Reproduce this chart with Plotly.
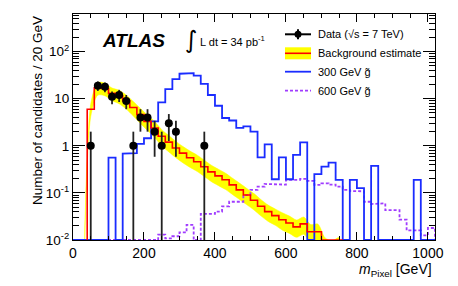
import numpy as np
import plotly.graph_objects as go

# ---------------- data ----------------
bin_width = 20

# background estimate (red histogram), bins starting at 40 GeV
bkg_start = 40
bkg_vals = [6, 17, 16.5, 13, 11.5, 9, 6.5, 4.6, 3.3, 2.4, 1.6, 1.2, 0.9, 0.7,
            0.56, 0.46, 0.36, 0.28, 0.23, 0.19, 0.148, 0.116, 0.09, 0.07,
            0.052, 0.04, 0.033, 0.027, 0.023, 0.019, 0.022, 0.015, 0.015,
            0.007, 0.006, 0.007]
bkg_rel_unc = [0.3, 0.3, 0.3, 0.3, 0.32, 0.33, 0.34, 0.35, 0.36, 0.37, 0.38,
               0.38, 0.38, 0.38, 0.38, 0.38, 0.38, 0.38, 0.38, 0.38, 0.38,
               0.38, 0.38, 0.38, 0.38, 0.38, 0.38, 0.4, 0.4, 0.4, 0.4, 0.42,
               0.45, 0.6, 0.6, 0.6]

# 300 GeV gluino (blue), bins from 0 GeV
sig300_start = 0
sig300_vals = [0, 0, 0, 0, 0, 0.56, 0, 0.68, 0.7, 1.1, 1.45, 3.3, 8.4, 16, 26,
               34, 35, 31, 20.6, 12, 7.1, 3.9, 3.45, 2.4, 2.6, 2.0, 0.57, 1.07,
               0.195, 0.57, 0.195, 0.64, 1.18, 0, 0.25, 0.36, 0.44, 0.19, 0,
               0.19, 0.126, 0, 0.375, 0, 0, 0, 0, 0, 0.19, 0, 0]

# 600 GeV gluino (violet dashed), bins from 0 GeV
sig600_start = 0
sig600_vals = [0, 0, 0, 0, 0, 0, 0, 0, 0, 0, 0, 0, 0.013, 0.0108, 0.012,
               0.0145, 0.021, 0, 0.036, 0.036, 0.040, 0.052, 0.065, 0.065,
               0.09, 0.116, 0.136, 0.155, 0.15, 0.15, 0.19, 0.19, 0.198, 0.18,
               0.148, 0.16, 0.15, 0.136, 0.116, 0.11, 0.108, 0.065, 0.058,
               0.06, 0.043, 0.043, 0.027, 0.016, 0.016, 0.0125, 0.018]

# data
data_x = [50, 70, 90, 110, 130, 150, 170, 190, 210, 230, 250, 270, 290, 370]
data_n = [1, 19, 18, 11, 12, 9, 1, 4, 4, 2, 1, 3, 2, 1]

x_ticks = [0, 200, 400, 600, 800, 1000]
y_tickvals = [0.01, 0.1, 1, 10, 100]
y_ticktext = ["10<sup>-2</sup>", "10<sup>-1</sup>", "1", "10", "10<sup>2</sup>"]

YMIN_LOG, YMAX_LOG = -2, 2.80
XMIN, XMAX = 0, 1020
FLOOR = 10 ** YMIN_LOG


def steps(start, vals, width, floor):
    xs = [start]
    ys = [floor]
    for i, v in enumerate(vals):
        lo = start + i * width
        hi = lo + width
        vv = max(v, floor)
        xs += [lo, hi]
        ys += [vv, vv]
    xs.append(start + len(vals) * width)
    ys.append(floor)
    return xs, ys


fig = go.Figure()

# background uncertainty band (smooth, through bin centres)
centers = [bkg_start + (i + 0.5) * bin_width for i in range(len(bkg_vals))]
up = [v * (1 + r) for v, r in zip(bkg_vals, bkg_rel_unc)]
lo = [v * (1 - r) for v, r in zip(bkg_vals, bkg_rel_unc)]
bx = [bkg_start - bin_width / 2] + centers + centers[::-1] + [bkg_start - bin_width / 2]
by = [1e-3] + up + lo[::-1] + [1e-3]
fig.add_trace(go.Scatter(x=bx, y=by, fill="toself", fillcolor="#ffff00",
                         mode="lines", line=dict(color="#ffff00", width=0.5, shape="spline", smoothing=0.8),
                         hoverinfo="skip", showlegend=False))

# 600 GeV signal
sx, sy = steps(sig600_start, sig600_vals, bin_width, FLOOR)
fig.add_trace(go.Scatter(x=sx, y=sy, mode="lines",
                         line=dict(color="#a03cff", width=1.8, dash="3px,2px"),
                         showlegend=False))

# 300 GeV signal
sx, sy = steps(sig300_start, sig300_vals, bin_width, FLOOR)
fig.add_trace(go.Scatter(x=sx, y=sy, mode="lines",
                         line=dict(color="#1a2cff", width=1.8),
                         showlegend=False))

# background histogram
sx, sy = steps(bkg_start, bkg_vals, bin_width, FLOOR)
fig.add_trace(go.Scatter(x=sx, y=sy, mode="lines",
                         line=dict(color="#ff0000", width=1.6),
                         showlegend=False))

# data with Poisson (sqrt N) errors
err_up = [np.sqrt(n) for n in data_n]
err_dn = [np.sqrt(n) if n - np.sqrt(n) > 0 else n - 0.005 for n in data_n]
fig.add_trace(go.Scatter(x=data_x, y=data_n, mode="markers",
                         marker=dict(color="black", size=8),
                         error_y=dict(type="data", array=err_up, arrayminus=err_dn,
                                      symmetric=False, width=0, thickness=1.8, color="#222222"),
                         showlegend=False))

# ---------------- layout ----------------
L, T, W, H = 73, 14, 362, 226


def px(x):
    return (x - L) / W


def py(y):
    return (T + H - y) / H


font_fam = "Liberation Sans, Arial, Helvetica, sans-serif"

fig.update_layout(
    width=458, height=286,
    margin=dict(l=L, r=458 - L - W, t=T, b=286 - T - H, autoexpand=False),
    paper_bgcolor="white", plot_bgcolor="white",
    font=dict(family=font_fam, color="black", size=13),
    xaxis=dict(range=[XMIN, XMAX], tickvals=x_ticks, ticks="inside", ticklen=8,
               tickwidth=1, tickcolor="black", showline=True, linecolor="black",
               linewidth=1.2, mirror="ticks", showgrid=False, zeroline=False,
               tickfont=dict(size=14), automargin=False,
               minor=dict(dtick=50, ticks="inside", ticklen=4, tickcolor="black", showgrid=False)),
    yaxis=dict(type="log", range=[YMIN_LOG, YMAX_LOG], tickvals=y_tickvals,
               ticktext=y_ticktext, ticks="inside", ticklen=12, tickwidth=1,
               tickcolor="black", showline=True, linecolor="black", linewidth=1.2,
               mirror="ticks", showgrid=False, zeroline=False,
               tickfont=dict(size=13.5), automargin=False,
               minor=dict(dtick="D1", ticks="inside", ticklen=6, tickcolor="black", showgrid=False)),
)

ann = []
# axis titles
ann.append(dict(text="Number of candidates / 20 GeV", xref="paper", yref="paper",
                x=px(37), y=py(111), xanchor="center", yanchor="middle",
                textangle=-90, showarrow=False, font=dict(size=13.5)))
ann.append(dict(text="<i>m</i><sub>Pixel</sub> [GeV]", xref="paper", yref="paper",
                x=px(434), y=py(270), xanchor="right", yanchor="middle",
                showarrow=False, font=dict(size=14)))
# ATLAS label
ann.append(dict(text="<b><i>ATLAS</i></b>", xref="paper", yref="paper",
                x=px(100), y=py(41), xanchor="left", yanchor="middle",
                showarrow=False, font=dict(size=19, family="Liberation Sans, Arial")))
ann.append(dict(text="∫", xref="paper", yref="paper",
                x=px(191), y=py(40), xanchor="center", yanchor="middle",
                showarrow=False, font=dict(size=24, family="DejaVu Sans")))
ann.append(dict(text="L dt = 34 pb<sup>-1</sup>", xref="paper", yref="paper",
                x=px(198), y=py(41), xanchor="left", yanchor="middle",
                showarrow=False, font=dict(size=11)))

# legend
leg_rows = [34.3, 53.3, 71.7, 90.7]
leg_text = ["Data (√s = 7 TeV)", "Background estimate", "300 GeV g̃", "600 GeV g̃"]
for yy, tt in zip(leg_rows, leg_text):
    ann.append(dict(text=tt, xref="paper", yref="paper", x=px(316), y=py(yy),
                    xanchor="left", yanchor="middle", showarrow=False,
                    font=dict(size=11)))

shapes = []
x0, x1 = px(285), px(311)
# data symbol
shapes.append(dict(type="line", xref="paper", yref="paper", x0=x0, x1=x1,
                   y0=py(leg_rows[0]), y1=py(leg_rows[0]), line=dict(color="black", width=2)))
shapes.append(dict(type="line", xref="paper", yref="paper", x0=px(298), x1=px(298),
                   y0=py(leg_rows[0] - 5), y1=py(leg_rows[0] + 5), line=dict(color="black", width=2)))
shapes.append(dict(type="circle", xref="paper", yref="paper", x0=px(294.5), x1=px(301.5),
                   y0=py(leg_rows[0] - 3.5), y1=py(leg_rows[0] + 3.5),
                   fillcolor="black", line=dict(color="black", width=0)))
# background symbol
shapes.append(dict(type="rect", xref="paper", yref="paper", x0=x0, x1=x1,
                   y0=py(leg_rows[1] - 6), y1=py(leg_rows[1] + 6),
                   fillcolor="#ffff00", line=dict(width=0)))
shapes.append(dict(type="line", xref="paper", yref="paper", x0=x0, x1=x1,
                   y0=py(leg_rows[1]), y1=py(leg_rows[1]), line=dict(color="#ff0000", width=1.6)))
# 300 GeV
shapes.append(dict(type="line", xref="paper", yref="paper", x0=x0, x1=x1,
                   y0=py(leg_rows[2]), y1=py(leg_rows[2]), line=dict(color="#1a2cff", width=1.8)))
# 600 GeV
shapes.append(dict(type="line", xref="paper", yref="paper", x0=x0, x1=x1,
                   y0=py(leg_rows[3]), y1=py(leg_rows[3]),
                   line=dict(color="#a03cff", width=1.8, dash="3px,2px")))

fig.update_layout(annotations=ann, shapes=shapes)
fig.write_html("out.html",
               config={"displayModeBar": False},
               post_script="document.body.style.margin='0px';document.body.style.padding='0px';")
